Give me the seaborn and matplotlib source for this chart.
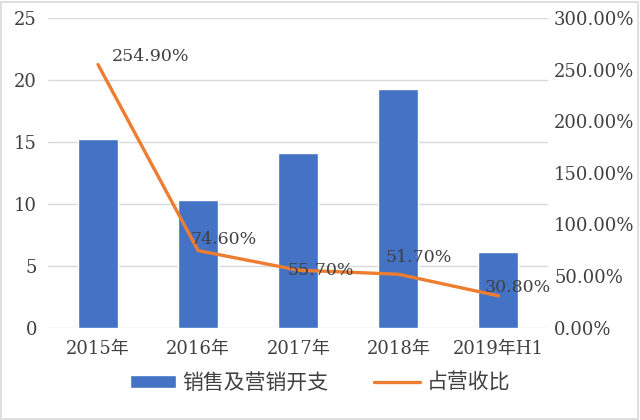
import numpy as np
import pandas as pd
import matplotlib
matplotlib.use("Agg")
import matplotlib.pyplot as plt
import seaborn as sns
from matplotlib.ticker import FuncFormatter

years = ["2015年", "2016年", "2017年", "2018年", "2019年H1"]
expense = [15.2, 10.3, 14.1, 19.3, 6.1]
ratio = [254.9, 74.6, 55.7, 51.7, 30.8]
ratio_labels = ["254.90%", "74.60%", "55.70%", "51.70%", "30.80%"]

sns.set_style("white")
plt.rcParams["font.family"] = ["DejaVu Serif", "Noto Sans CJK SC"]

df = pd.DataFrame({"year": years, "expense": expense, "ratio": ratio})

fig = plt.figure(figsize=(6.4, 4.2), dpi=100)
ax = fig.add_axes([0.075, 0.22, 0.782, 0.737])
ax2 = ax.twinx()

sns.barplot(data=df, x="year", y="expense", color="#4472C4", width=0.4,
            saturation=1, ax=ax, label="销售及营销开支", zorder=2)
sns.lineplot(x=np.arange(len(years)), y=df["ratio"], color="#ED7D31",
             linewidth=2.4, ax=ax2, label="占营收比", legend=False)

ax.set_ylim(0, 25)
ax.set_yticks(range(0, 26, 5))
ax2.set_ylim(0, 300)
ax2.set_yticks(range(0, 301, 50))
ax2.yaxis.set_major_formatter(FuncFormatter(lambda v, p: f"{v:.2f}%"))
ax.set_xlim(-0.5, 4.5)
ax.yaxis.grid(True, color="#D9D9D9", linewidth=1)
ax.set_axisbelow(True)
ax.set_xlabel("")
ax.set_ylabel("")
ax2.set_ylabel("")
for a in (ax, ax2):
    for s in a.spines.values():
        s.set_visible(False)
    a.tick_params(length=0, labelsize=13, colors="#404040")
ax.tick_params(axis="x", pad=9)
ax.tick_params(axis="y", pad=8)
ax2.tick_params(axis="y", pad=4)

offsets = [(10, 6), (18, 8), (16, 0), (15, 12), (14, 6)]
for i, (v, lab) in enumerate(zip(ratio, ratio_labels)):
    ax2.annotate(lab, xy=(i, v), xytext=offsets[i], textcoords="offset points",
                 ha="left" if i == 0 else "center", va="center",
                 fontsize=12.5, color="#404040")

h1, l1 = ax.get_legend_handles_labels()
h2, l2 = ax2.get_legend_handles_labels()
if ax.get_legend():
    ax.get_legend().remove()
fig.legend(h1 + h2, l1 + l2, loc="lower center", ncol=2, frameon=False,
           bbox_to_anchor=(0.5, 0.02), fontsize=15, labelcolor="#404040",
           handlelength=2.2, handleheight=0.6, handletextpad=0.3, columnspacing=2.2)

fig.patches.append(plt.Rectangle((0.002, 0.003), 0.995, 0.993, transform=fig.transFigure,
                                 fill=False, edgecolor="#D9D9D9", linewidth=1.2))
fig.savefig("out.png", dpi=100)
